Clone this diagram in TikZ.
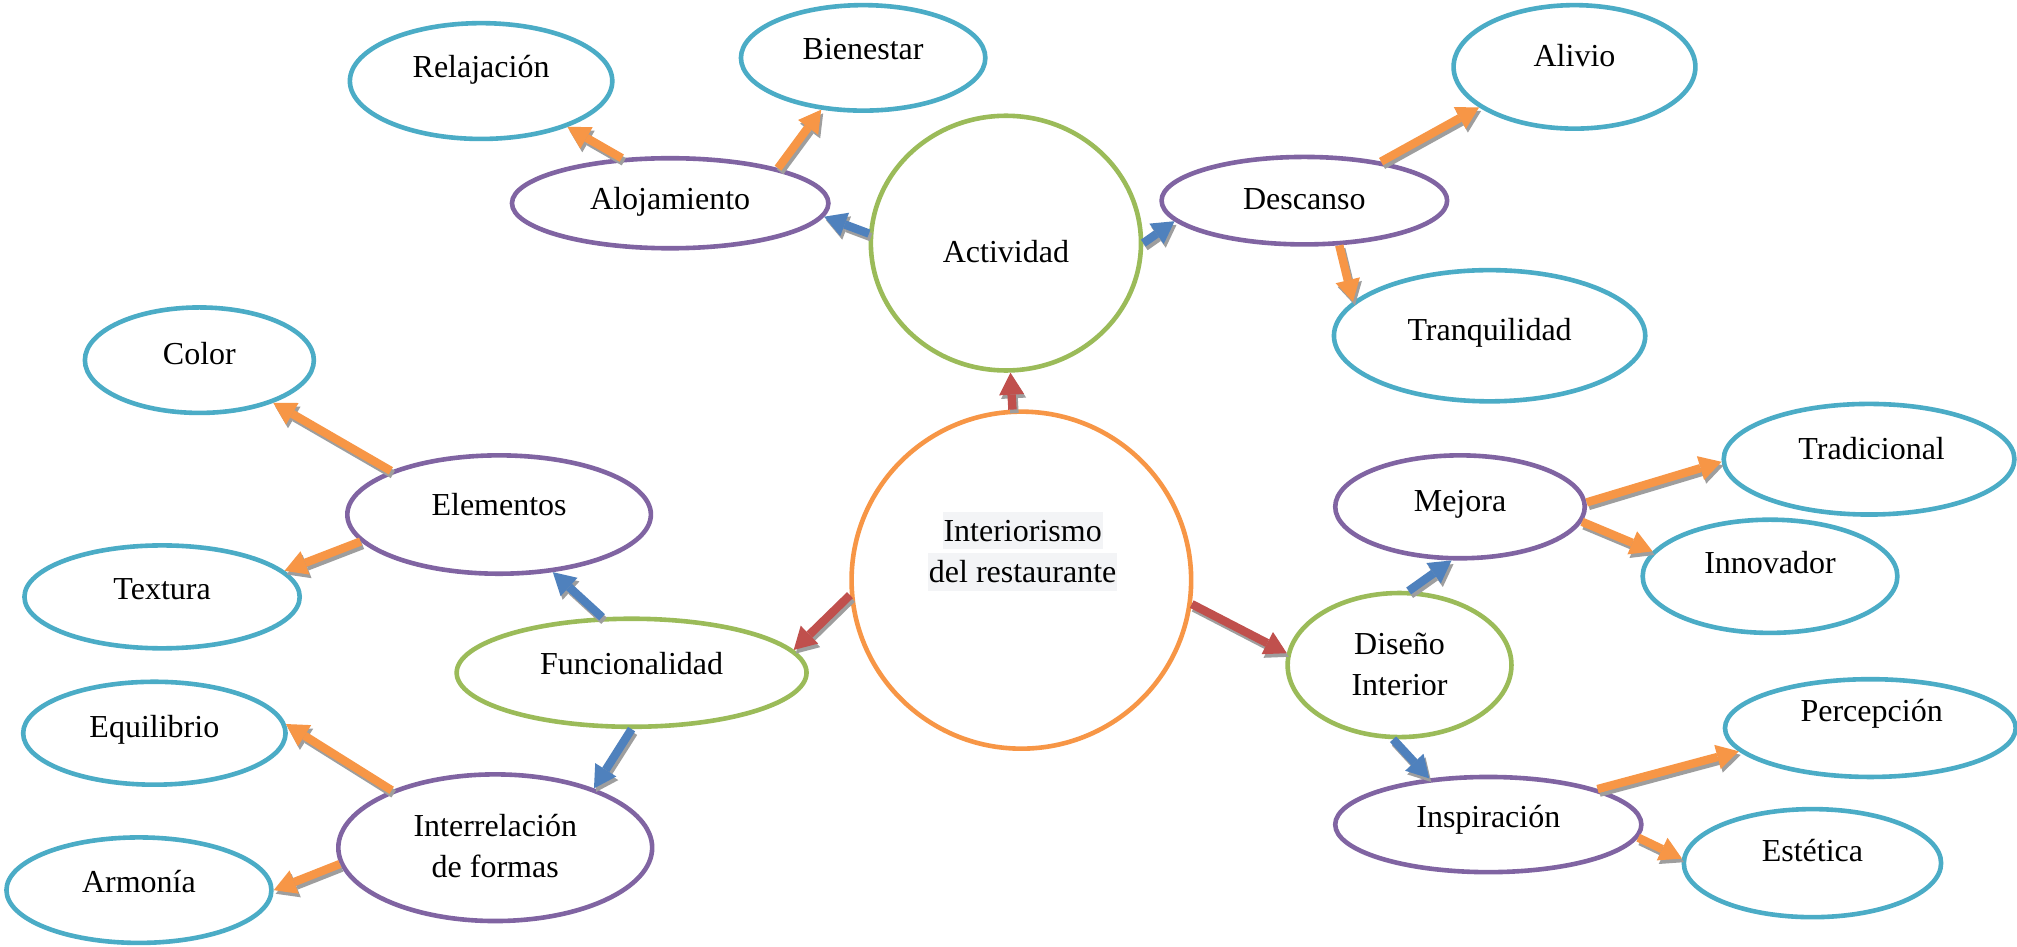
\documentclass[tikz,border=0pt]{standalone}
\usepackage{fontspec}
\setmainfont{Liberation Serif}
\usetikzlibrary{arrows.meta,shapes.geometric}

\definecolor{cyanline}{HTML}{4BACC6}
\definecolor{purpleline}{HTML}{8064A2}
\definecolor{greenline}{HTML}{9BBB59}
\definecolor{orangeline}{HTML}{F79646}
\definecolor{redarrow}{HTML}{C0504D}
\definecolor{bluearrow}{HTML}{4F81BD}
\definecolor{orangearrow}{HTML}{F79646}
\definecolor{shadowgray}{HTML}{9E9E9E}
\definecolor{highlight}{HTML}{F3F4F6}

\newlength\unitpx
\setlength\unitpx{0.6432pt}

% one connector: grey drop shadow first, coloured block arrow on top
\newcommand\linkarrow[3]{%
  \draw[arrowshadow] (#2) -- (#3);
  \draw[arrowbody, draw=#1] (#2) -- (#3);}

\begin{document}
\begin{tikzpicture}[x=0.6432pt, y=-0.6432pt,
  bubble/.style={ellipse, draw, line width=2.3pt, inner sep=0pt},
  cyanbub/.style={bubble, draw=cyanline},
  purplebub/.style={bubble, draw=purpleline},
  greenbub/.style={bubble, draw=greenline},
  orangebub/.style={bubble, draw=orangeline},
  label/.style={anchor=base, inner sep=0pt, font=\fontsize{16pt}{20.6pt}\selectfont},
  marked/.style={label, fill=highlight, text height=14.8pt, text depth=3.9pt, inner xsep=0.5pt},
  arrowbody/.style={line width=4.2pt,
    -{Triangle[width=12.5pt, length=11pt, line width=0pt]}},
  arrowshadow/.style={arrowbody, draw=shadowgray,
    transform canvas={xshift=1pt, yshift=-1.8pt}}]

\useasboundingbox[fill=white] (0,0) rectangle (1568,736);

% central topic
\node[orangebub, minimum width=264*\unitpx, minimum height=262*\unitpx] (ctr) at (794,451) {};
\node[marked] (ctr-a) at (795,421) {Interiorismo};
\node[marked] (ctr-b) at (795,453) {del restaurante};

% first level (green)
\node[greenbub, minimum width=210*\unitpx, minimum height=198*\unitpx] (actividad) at (782,189) {};
\node[label] (actividad-t) at (782,204) {Actividad};
\node[greenbub, minimum width=272*\unitpx, minimum height=84*\unitpx] (funcional) at (491,523) {};
\node[label] (funcional-t) at (491,524) {Funcionalidad};
\node[greenbub, minimum width=174*\unitpx, minimum height=112*\unitpx] (diseno) at (1088,517) {};
\node[label] (diseno-a) at (1088,508.6) {Diseño};
\node[label] (diseno-b) at (1088,541) {Interior};

% second level (purple)
\node[purplebub, minimum width=246*\unitpx, minimum height=70*\unitpx] (alojamiento) at (521,158) {};
\node[label] (alojamiento-t) at (521,163) {Alojamiento};
\node[purplebub, minimum width=222*\unitpx, minimum height=68*\unitpx] (descanso) at (1014,156) {};
\node[label] (descanso-t) at (1014,163) {Descanso};
\node[purplebub, minimum width=236*\unitpx, minimum height=92*\unitpx] (elementos) at (388,400) {};
\node[label] (elementos-t) at (388,401) {Elementos};
\node[purplebub, minimum width=244*\unitpx, minimum height=114*\unitpx] (interrel) at (385,659) {};
\node[label] (interrel-a) at (385,650) {Interrelación};
\node[label] (interrel-b) at (385,682) {de formas};
\node[purplebub, minimum width=194*\unitpx, minimum height=80*\unitpx] (mejora) at (1135,394) {};
\node[label] (mejora-t) at (1135,398) {Mejora};
\node[purplebub, minimum width=238*\unitpx, minimum height=74*\unitpx] (inspiracion) at (1157,641) {};
\node[label] (inspiracion-t) at (1157,643) {Inspiración};

% leaves (cyan)
\node[cyanbub, minimum width=204*\unitpx, minimum height=90*\unitpx] (relaj) at (374,63) {};
\node[label] (relaj-t) at (374,60) {Relajación};
\node[cyanbub, minimum width=190*\unitpx, minimum height=82*\unitpx] (bienestar) at (671,45) {};
\node[label] (bienestar-t) at (671,46) {Bienestar};
\node[cyanbub, minimum width=188*\unitpx, minimum height=96*\unitpx] (alivio) at (1224,52) {};
\node[label] (alivio-t) at (1224,52) {Alivio};
\node[cyanbub, minimum width=242*\unitpx, minimum height=102*\unitpx] (tranq) at (1158,261) {};
\node[label] (tranq-t) at (1158,265) {Tranquilidad};
\node[cyanbub, minimum width=178*\unitpx, minimum height=82*\unitpx] (color) at (155,280) {};
\node[label] (color-t) at (155,283) {Color};
\node[cyanbub, minimum width=214*\unitpx, minimum height=80*\unitpx] (textura) at (126,464) {};
\node[label] (textura-t) at (126,466) {Textura};
\node[cyanbub, minimum width=204*\unitpx, minimum height=80*\unitpx] (equilibrio) at (120,570) {};
\node[label] (equilibrio-t) at (120,573) {Equilibrio};
\node[cyanbub, minimum width=206*\unitpx, minimum height=82*\unitpx] (armonia) at (108,692) {};
\node[label] (armonia-t) at (108,694) {Armonía};
\node[cyanbub, minimum width=226*\unitpx, minimum height=86*\unitpx] (tradicional) at (1453,357) {};
\node[label] (tradicional-t) at (1455,357) {Tradicional};
\node[cyanbub, minimum width=198*\unitpx, minimum height=88*\unitpx] (innovador) at (1376,448) {};
\node[label] (innovador-t) at (1376,446) {Innovador};
\node[cyanbub, minimum width=226*\unitpx, minimum height=76*\unitpx] (percepcion) at (1454,566) {};
\node[label] (percepcion-t) at (1455,561) {Percepción};
\node[cyanbub, minimum width=200*\unitpx, minimum height=84*\unitpx] (estetica) at (1409,671) {};
\node[label] (estetica-t) at (1409,670) {Estética};

% connectors from the centre
\linkarrow{redarrow}{ctr.93}{actividad.-88}
\linkarrow{redarrow}{ctr.185}{funcional.8}
\linkarrow{redarrow}{ctr.-8}{diseno.174}

% connectors from the first level
\linkarrow{bluearrow}{actividad.176}{alojamiento.-5}
\linkarrow{bluearrow}{actividad.0}{descanso.189}
\linkarrow{bluearrow}{funcional.118}{elementos.-47}
\linkarrow{bluearrow}{funcional.-90}{interrel.31}
\linkarrow{bluearrow}{diseno.83}{mejora.-99}
\linkarrow{bluearrow}{diseno.-95}{inspiracion.142}

% connectors to the leaves
\linkarrow{orangearrow}{alojamiento.137}{relaj.-28}
\linkarrow{orangearrow}{alojamiento.18}{bienestar.231}
\linkarrow{orangearrow}{descanso.27}{alivio.203}
\linkarrow{orangearrow}{descanso.-52}{tranq.166}
\linkarrow{orangearrow}{elementos.158}{color.-30}
\linkarrow{orangearrow}{elementos.191}{textura.12}
\linkarrow{orangearrow}{interrel.151}{equilibrio.4}
\linkarrow{orangearrow}{interrel.186}{armonia.0}
\linkarrow{orangearrow}{mejora.2}{tradicional.181}
\linkarrow{orangearrow}{mejora.-7}{innovador.168}
\linkarrow{orangearrow}{inspiracion.18}{percepcion.190}
\linkarrow{orangearrow}{inspiracion.-5}{estetica.178}

\end{tikzpicture}
\end{document}
